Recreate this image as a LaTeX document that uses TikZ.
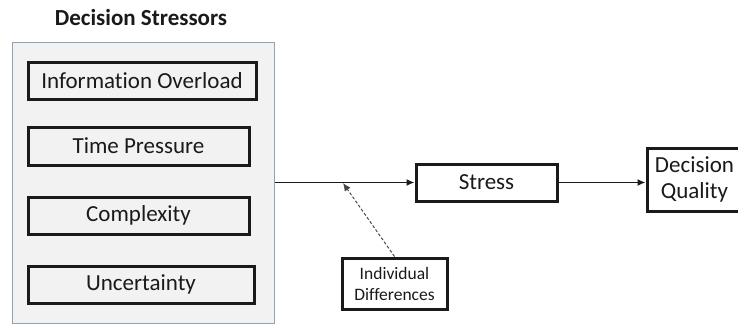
\documentclass[tikz,border=0pt]{standalone}
\usepackage{fontspec}
\setmainfont{Carlito}[Ligatures=NoCommon]
\usetikzlibrary{arrows.meta}
\definecolor{panelfill}{HTML}{F2F2F2}
\definecolor{paneledge}{HTML}{8EA2B8}
\definecolor{ink}{HTML}{1A1A1A}
\tikzset{
  factor/.style={draw=ink, line width=3pt, fill=panelfill, inner sep=0pt,
    font=\fontsize{23}{25}\selectfont, text=ink},
  stage/.style={draw=ink, line width=3pt, fill=white, inner sep=0pt,
    font=\fontsize{23}{26}\selectfont, text=ink, align=center},
  flow/.style={draw=ink, line width=1.5pt, -{Latex[length=8pt,width=7pt]}},
  moderator/.style={draw=ink!80, line width=1pt, dashed, dash pattern=on 3pt off 2pt,
    -{Latex[length=8pt,width=7pt]}}
}
\begin{document}
\begin{tikzpicture}[x=1pt,y=-1pt]
\useasboundingbox (0,0) rectangle (738,324);
\begin{scope}
\clip (0,0) rectangle (738,324);
% stressor panel
\node[draw=paneledge, line width=1pt, fill=panelfill, minimum width=262pt,
  minimum height=281pt, inner sep=0pt] (panel) at (143,182.5) {};
\node[font=\bfseries\fontsize{23}{25}\selectfont, text=ink] (title) at (141,18) {Decision Stressors};
\node[factor, minimum width=228pt, minimum height=37pt] (info) at (142,80.5) {Information Overload};
\node[factor, minimum width=221pt, minimum height=38pt] (time) at (138.5,146) {Time Pressure};
\node[factor, minimum width=221pt, minimum height=37pt] (complex) at (138.5,215.5) {Complexity};
\node[factor, minimum width=226pt, minimum height=37pt] (uncert) at (141,284.5) {Uncertainty};
% outcome chain
\node[stage, minimum width=141pt, minimum height=37pt] (stress) at (486.5,182.5) {Stress};
\node[stage, minimum width=95pt, minimum height=63pt] (quality) at (694.5,179.5) {Decision\\Quality};
\node[stage, minimum width=105pt, minimum height=51pt, font=\fontsize{17.5}{21}\selectfont]
  (indiv) at (394.5,283.5) {Individual\\Differences};
\coordinate (join) at (343,183);
\draw[flow] (panel.east) -- (stress.west);
\draw[flow] (stress.east) -- (quality.west |- stress.east);
\draw[moderator] (indiv.north) -- (join);
\end{scope}
\end{tikzpicture}
\end{document}
